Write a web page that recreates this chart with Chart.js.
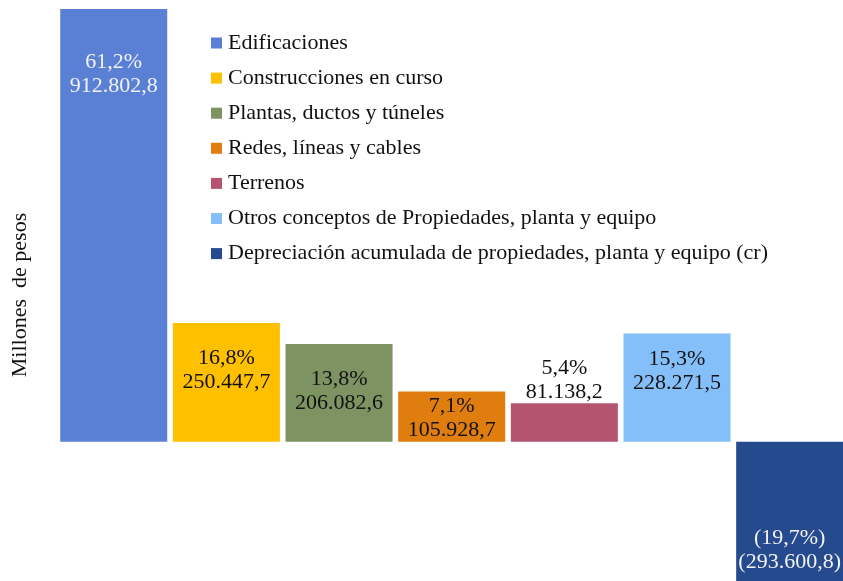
<!DOCTYPE html>
<html>
<head>
<meta charset="utf-8">
<script src="https://cdn.jsdelivr.net/npm/chart.js@4"></script>
<style>
  body { margin: 0; background: #fff; overflow: hidden; }
</style>
</head>
<body>
<canvas id="chart" width="846" height="581"></canvas>
<script>
const categories = [
    "Edificaciones",
    "Construcciones en curso",
    "Plantas, ductos y túneles",
    "Redes, líneas y cables",
    "Terrenos",
    "Otros conceptos de Propiedades, planta y equipo",
    "Depreciación acumulada de propiedades, planta y equipo (cr)"
];
const values = [912802.8, 250447.7, 206082.6, 105928.7, 81138.2, 228271.5, -293600.8];
const shares = [61.2, 16.8, 13.8, 7.1, 5.4, 15.3, -19.7];

const colors = ["#5a80d6","#ffc000","#7e9362","#df7d0f","#b5546f","#85bff9","#254a8e"];
const labelColors = ["#f2f2f2","#111","#111","#111","#111","#111","#f2f2f2"];
// where the first label line sits, measured from the bar end
const labelOffset = [53, 35, 35, 15, -35, 26, -43];
const FONT = "'Liberation Serif', 'Times New Roman', serif";

function fmtNum(v, dec){
    let s = Math.abs(v).toFixed(dec);
    let [a,b] = s.split(".");
    a = a.replace(/\B(?=(\d{3})+(?!\d))/g, ".");
    s = b ? a + "," + b : a;
    return v < 0 ? "(" + s + ")" : s;
}
function fmtPct(v){
    let s = Math.abs(v).toFixed(1).replace(".", ",") + "%";
    return v < 0 ? "(" + s + ")" : s;
}

const barLabels = {
    id: "barLabels",
    afterDatasetsDraw(chart){
        const ctx = chart.ctx;
        const meta = chart.getDatasetMeta(0);
        ctx.save();
        ctx.font = "22px " + FONT;
        ctx.textAlign = "center";
        ctx.textBaseline = "middle";
        meta.data.forEach((el,i)=>{
            const y1 = el.y + labelOffset[i];
            ctx.fillStyle = labelColors[i];
            ctx.fillText(fmtPct(shares[i]), el.x, y1);
            ctx.fillText(fmtNum(values[i], 1), el.x, y1 + 24);
        });
        ctx.restore();
    }
};

const boxLegend = {
    id: "boxLegend",
    afterDraw(chart){
        const ctx = chart.ctx;
        ctx.save();
        ctx.font = "22px " + FONT;
        ctx.textBaseline = "middle";
        ctx.textAlign = "left";
        categories.forEach((c,i)=>{
            const y = 43 + i*35.1;
            ctx.fillStyle = colors[i];
            ctx.fillRect(211, y-5.5, 11, 11);
            ctx.fillStyle = "#111";
            ctx.fillText(c, 228, y);
        });
        ctx.restore();
    }
};

new Chart(document.getElementById("chart"),{
    type: "bar",
    data: {
        labels: categories,
        datasets: [{
            data: values,
            backgroundColor: colors,
            borderWidth: 0,
            categoryPercentage: 0.95,
            barPercentage: 1
        }]
    },
    options: {
        responsive: false,
        animation: false,
        layout: { padding: { top: 9, left: 7, right: 0, bottom: 0 } },
        scales: {
            x: { display: false },
            y: {
                min: Math.min(...values),
                max: Math.max(...values),
                grid: { display: false, drawTicks: false },
                border: { display: false },
                ticks: { display: false },
                title: {
                    display: true,
                    text: "Millones  de pesos",
                    color: "#111",
                    font: { family: FONT, size: 22 },
                    padding: { top: 0, bottom: 24 }
                }
            }
        },
        plugins: {
            legend: { display: false },
            tooltip: { enabled: false }
        }
    },
    plugins: [barLabels, boxLegend]
});
</script>
</body>
</html>
